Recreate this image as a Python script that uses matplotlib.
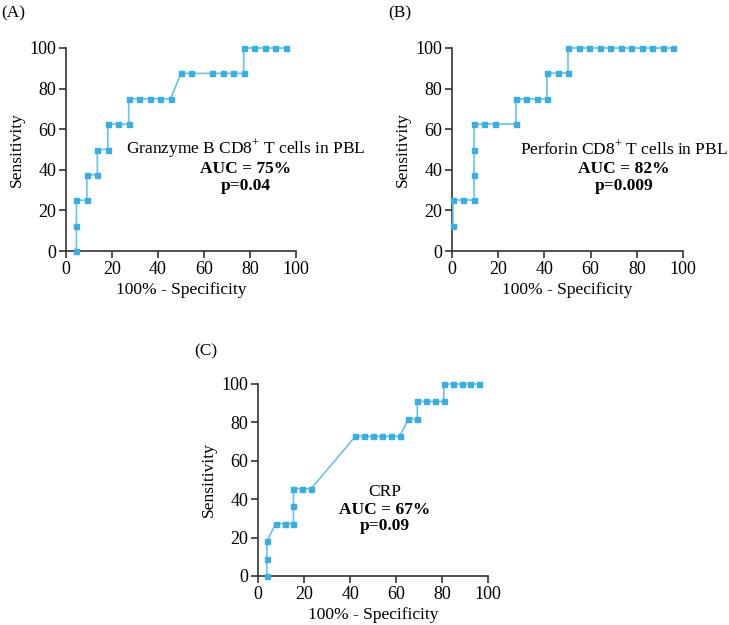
import matplotlib
matplotlib.use("Agg")
import matplotlib.pyplot as plt
import numpy as np

plt.rcParams['font.family'] = ['Liberation Serif', 'DejaVu Serif']
plt.rcParams['mathtext.fontset'] = 'custom'
plt.rcParams['mathtext.rm'] = 'Liberation Serif'
plt.rcParams['mathtext.bf'] = 'Liberation Serif:bold'

# ROC points, x = 100% - specificity, y = sensitivity
step_a = 100 / 22
gzb_x = [1, 1, 1, 2, 2, 3, 3, 4, 4, 5, 6, 6, 7, 8, 9, 10, 11, 12, 14, 15, 16, 17, 17, 18, 19, 20, 21]
gzb_y = [0, 12.5, 25, 25, 37.5, 37.5, 50, 50, 62.5, 62.5, 62.5, 75, 75, 75, 75, 75,
         87.5, 87.5, 87.5, 87.5, 87.5, 87.5, 100, 100, 100, 100, 100]

prf_x = [0, 0, 1, 2, 2, 2, 2, 3, 4, 6, 6, 7, 8, 9, 9, 10, 11, 11,
         12, 13, 14, 15, 16, 17, 18, 19, 20, 21]
prf_y = [12.5, 25, 25, 25, 37.5, 50, 62.5, 62.5, 62.5, 62.5, 75, 75, 75, 75, 87.5, 87.5, 87.5, 100,
         100, 100, 100, 100, 100, 100, 100, 100, 100, 100]

step_c = 100 / 26
s11 = 100 / 11
crp_x = [1, 1, 1, 2, 3, 4, 4, 4, 5, 6, 11, 12, 13, 14, 15, 16, 17, 18, 18, 19, 20, 21, 21, 22, 23, 24, 25]
crp_k = [0, 1, 2, 3, 3, 3, 4, 5, 5, 5, 8, 8, 8, 8, 8, 8, 9, 9, 10, 10, 10, 10, 11, 11, 11, 11, 11]

gzb_x = np.array(gzb_x) * step_a
prf_x = np.array(prf_x) * step_a + 0.4
crp_x = np.array(crp_x) * step_c
crp_y = np.array(crp_k) * s11

line_c = '#66C4ED'
mark_c = '#35AFE6'
spine_c = '#333333'

fig = plt.figure(figsize=(7.29, 6.25), dpi=100)


def roc_panel(rect, x, y, name, auc, p, tx, ty, letter, lx, ly):
    ax = fig.add_axes(rect)
    ax.plot(x, y, color=line_c, lw=1.2, marker='s', ms=3.6,
            mfc=mark_c, mec=mark_c, clip_on=False, zorder=3)
    ax.set_xlim(0, 100)
    ax.set_ylim(0, 100)
    ax.set_xticks([0, 20, 40, 60, 80, 100])
    ax.set_yticks([0, 20, 40, 60, 80, 100])
    for s in ['top', 'right']:
        ax.spines[s].set_visible(False)
    for s in ['left', 'bottom']:
        ax.spines[s].set_color(spine_c)
        ax.spines[s].set_linewidth(1.2)
    ax.tick_params(direction='out', length=5, width=1.2, color=spine_c,
                   labelsize=13, pad=2)
    ax.set_xlabel('100% - Specificity', fontsize=12.5, labelpad=3)
    ax.set_ylabel('Sensitivity', fontsize=12.5, labelpad=3)
    ax.text(tx, ty, name, fontsize=12.5, ha='center', va='center', clip_on=False)
    ax.text(tx, ty - 9.5, 'AUC = ' + auc, fontsize=12.5, fontweight='bold',
            ha='center', va='center', clip_on=False)
    ax.text(tx, ty - 18, 'p=' + p, fontsize=12.5, fontweight='bold',
            ha='center', va='center', clip_on=False)
    fig.text(lx, ly, letter, fontsize=12.5, ha='left', va='center')
    return ax


roc_panel([0.0905, 0.5984, 0.3155, 0.3248], gzb_x, gzb_y,
          'Granzyme B CD8$^{+}$ T cells in PBL', '75%', '0.04', 78, 50, '(A)', 0.002, 0.979)
roc_panel([0.620, 0.5984, 0.317, 0.3248], prf_x, prf_y,
          'Perforin CD8$^{+}$ T cells in PBL', '82%', '0.009', 74.5, 50, '(B)', 0.532, 0.979)
roc_panel([0.354, 0.0784, 0.3155, 0.3072], crp_x, crp_y,
          'CRP', '67%', '0.09', 55, 44, '(C)', 0.267, 0.437)

fig.savefig('out.png', dpi=100)
